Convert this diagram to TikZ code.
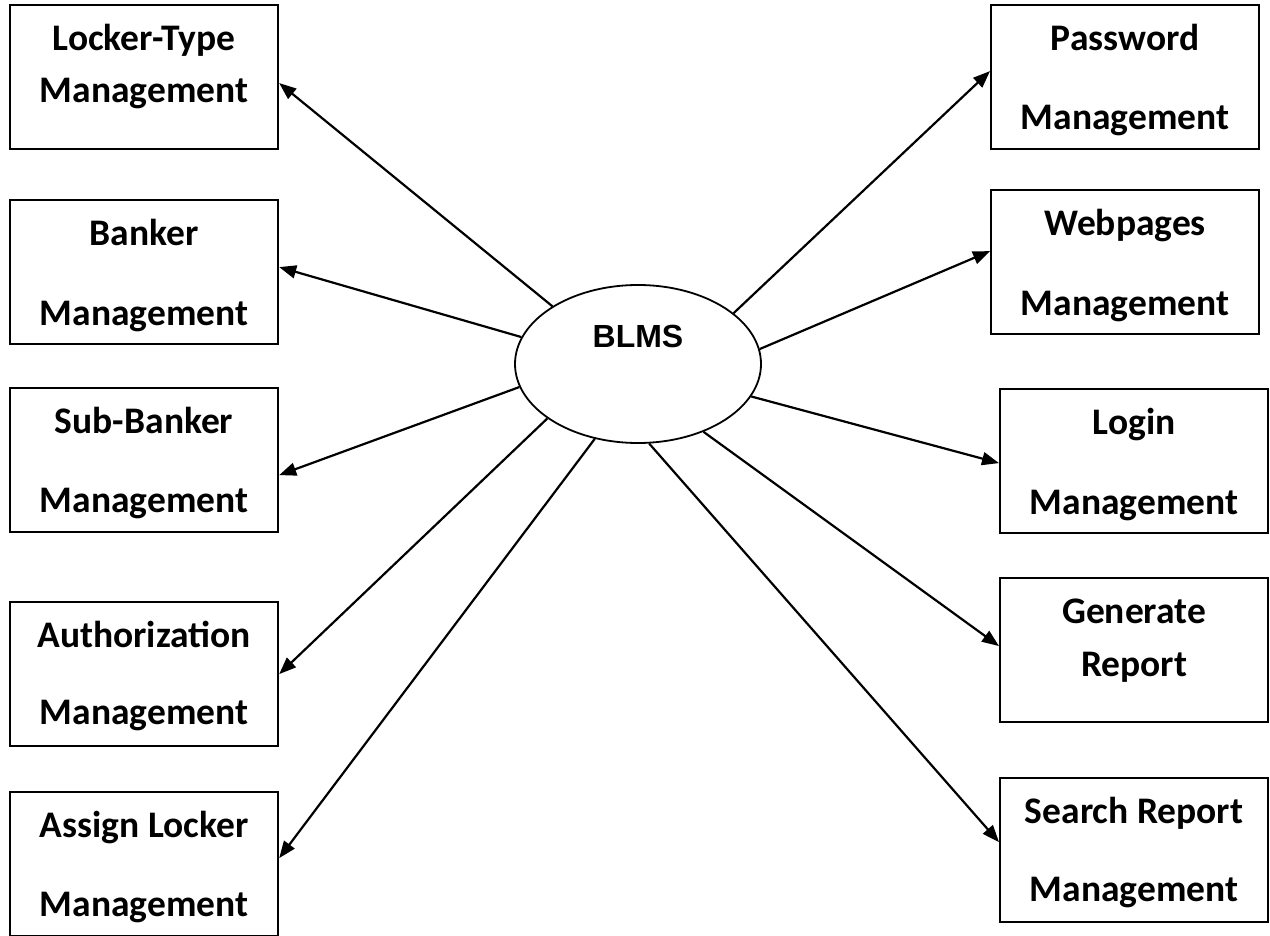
\documentclass[tikz,border=0pt]{standalone}
\usepackage{fontspec}
\setmainfont{Carlito}
\newfontfamily\blmsfont{Liberation Sans}
\usetikzlibrary{arrows.meta}
\usetikzlibrary{shapes.geometric}

% two lines of a module box, #3 = distance between the baselines
\newcommand{\boxtext}[3]{\parbox[c][144pt][t]{268pt}{\centering\fontsize{37.5}{#3}\selectfont\bfseries\rule{0pt}{45pt}#1\\#2}}

\tikzset{
  module/.style={draw, rectangle, line width=2.2pt, inner sep=0pt, anchor=north west},
  flow/.style={line width=2.2pt, -{Triangle[length=17pt,width=13pt]}}
}

\begin{document}
\begin{tikzpicture}[x=1pt,y=-1pt]
\useasboundingbox (0,0) rectangle (1270,936);
% draws centre
\node[draw, ellipse, line width=1.8pt, minimum width=246pt, minimum height=158pt, inner sep=0pt] (blms) at (638,364) {};
\node[anchor=base, font=\blmsfont\bfseries\fontsize{32}{38}\selectfont] (blmstext) at ([yshift=17pt]blms.center) {BLMS};
% draws modules on the left
\node[module] (lockertype) at (9,4) {\boxtext{Locker-Type}{Management}{52}};
\node[module] (banker) at (9,199) {\boxtext{Banker}{Management}{80}};
\node[module] (subbanker) at (9,387) {\boxtext{Sub-Banker}{Management}{79}};
\node[module] (authorization) at (9,601) {\boxtext{Authorization}{Management}{77}};
\node[module] (assignlocker) at (9,791) {\boxtext{Assign Locker}{Management}{79}};
% draws modules on the right
\node[module] (password) at (990,4) {\boxtext{Password}{Management}{79}};
\node[module] (webpages) at (990,189) {\boxtext{Webpages}{Management}{80}};
\node[module] (login) at (999,388) {\boxtext{Login}{Management}{80}};
\node[module] (generatereport) at (999,577) {\boxtext{Generate}{Report}{53}};
\node[module] (searchreport) at (999,777) {\boxtext{Search Report}{Management}{78}};
% draws edges
\draw[flow] (blms.146.6) -- ([yshift=-6pt]lockertype.east);
\draw[flow] (blms.167.8) -- ([yshift=5pt]banker.east);
\draw[flow] (blms.191) -- ([yshift=-15pt]subbanker.east);
\draw[flow] (blms.211.8) -- (authorization.east);
\draw[flow] (blms.240.3) -- ([yshift=6pt]assignlocker.east);
\draw[flow] (blms.28.9) -- ([yshift=6pt]password.west);
\draw[flow] (blms.7) -- ([yshift=11pt]webpages.west);
\draw[flow] (blms.344.3) -- ([yshift=-2pt]login.west);
\draw[flow] (blms.314.6) -- ([yshift=4pt]generatereport.west);
\draw[flow] (blms.278.6) -- ([yshift=8pt]searchreport.west);
\end{tikzpicture}
\end{document}
